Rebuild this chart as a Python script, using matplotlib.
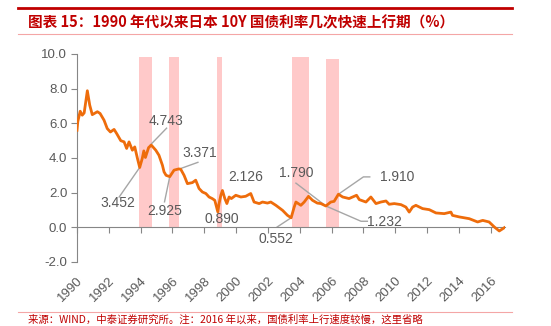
import matplotlib.pyplot as plt

plt.rcParams["font.family"] = ["Liberation Sans", "Noto Sans CJK SC", "DejaVu Sans"]

# 10Y JGB yield (%)
years = [1990.0, 1990.05, 1990.2, 1990.33, 1990.45, 1990.65, 1990.8, 1990.96, 1991.28, 1991.45,
         1991.7, 1991.9, 1992.1, 1992.33, 1992.5, 1992.75, 1992.96, 1993.12, 1993.27, 1993.48,
         1993.63, 1993.8, 1993.94, 1994.1, 1994.2, 1994.3, 1994.5, 1994.67, 1994.95, 1995.15,
         1995.37, 1995.47, 1995.6, 1995.83, 1996.1, 1996.4, 1996.52, 1996.73, 1996.94, 1997.25,
         1997.46, 1997.67, 1997.88, 1998.1, 1998.3, 1998.5, 1998.66, 1998.85, 1998.93, 1999.04,
         1999.14, 1999.29, 1999.42, 1999.56, 1999.7, 1999.98, 2000.3, 2000.6, 2000.92, 2001.13,
         2001.45, 2001.66, 2001.97, 2002.18, 2002.5, 2002.92, 2003.23, 2003.46, 2003.65, 2003.76,
         2004.07, 2004.28, 2004.55, 2004.8, 2005.1, 2005.33, 2005.64, 2005.95, 2006.16, 2006.43,
         2006.7, 2007.1, 2007.57, 2007.74, 2008.16, 2008.47, 2008.79, 2009.1, 2009.42, 2009.62,
         2009.94, 2010.36, 2010.67, 2010.88, 2011.09, 2011.3, 2011.72, 2012.14, 2012.56, 2013.08,
         2013.5, 2013.6, 2014.03, 2014.65, 2015.18, 2015.5, 2015.9, 2016.23, 2016.54, 2016.86]
yields = [5.6, 6.1, 6.7, 6.47, 6.6, 7.88, 7.05, 6.5, 6.67, 6.57,
          6.18, 5.7, 5.5, 5.65, 5.4, 5.0, 4.93, 4.55, 4.93, 4.45,
          4.64, 3.97, 3.452, 3.97, 4.41, 4.03, 4.6, 4.743, 4.45, 4.16,
          3.58, 3.2, 3.0, 2.925, 3.3, 3.371, 3.35, 3.0, 2.52, 2.58,
          2.72, 2.24, 2.04, 1.95, 1.75, 1.66, 1.56, 0.89, 1.37, 1.85,
          2.126, 1.66, 1.37, 1.75, 1.66, 1.85, 1.75, 1.79, 1.95, 1.46,
          1.37, 1.46, 1.4, 1.46, 1.27, 0.98, 0.69, 0.552, 1.17, 1.46,
          1.27, 1.46, 1.79, 1.56, 1.4, 1.37, 1.232, 1.46, 1.5, 1.91,
          1.75, 1.66, 1.85, 1.6, 1.46, 1.75, 1.37, 1.46, 1.52, 1.33,
          1.37, 1.31, 1.17, 0.88, 1.17, 1.27, 1.08, 1.02, 0.83, 0.79,
          0.88, 0.69, 0.6, 0.5, 0.31, 0.4, 0.31, 0.02, -0.21, -0.02]

# rapid-rise periods (shaded)
rise_start = [1993.9, 1995.8, 1998.8, 2003.5, 2005.66]
rise_end = [1994.7, 1996.4, 1999.1, 2004.55, 2006.46]
rise_top = [9.83, 9.83, 9.83, 9.8, 9.7]

# annotated turning points
ann_text = ["3.452", "4.743", "2.925", "3.371", "0.890", "2.126", "0.552", "1.790", "1.232", "1.910"]
ann_x = [1993.94, 1994.6, 1995.83, 1996.45, 1998.85, 1999.14, 2003.46, 2004.55, 2005.64, 2006.43]
ann_y = [3.452, 4.743, 2.925, 3.371, 0.890, 2.126, 0.552, 1.790, 1.232, 1.910]

xticks = list(range(1990, 2017, 2))
yticks = [-2, 0, 2, 4, 6, 8, 10]

# layout of the labels: (text x, text y, leader path or None)
label_layout = [
    (1992.58, 1.39, [(1992.65, 1.75)]),
    (1995.58, 6.13, [(1995.63, 5.72)]),
    (1995.53, 0.92, [(1995.5, 1.47)]),
    (1997.74, 4.30, [(1997.6, 3.75)]),
    (1999.10, 0.50, None),
    (2000.61, 2.91, None),
    (2002.50, -0.66, [(2002.58, 0.02)]),
    (2003.76, 3.14, None),
    (2009.30, 0.32, [(2003.76, 2.55)]),
    (2010.14, 2.91, [(2008.0, 2.91), (2008.4, 2.91)]),
]

GRAY = "#595959"
fig = plt.figure(figsize=(5.51, 3.26), dpi=100)
ax = fig.add_axes([77 / 551, 64 / 326, 428 / 551, 208 / 326])

ax.bar(rise_start, rise_top, width=[e - s for s, e in zip(rise_start, rise_end)],
       align="edge", color="#FFC9C9", linewidth=0, zorder=1)
ax.plot(years, yields, color="#EE6C0B", lw=2, zorder=3)

for (txt, px, py), (tx, ty, path) in zip(zip(ann_text, ann_x, ann_y), label_layout):
    ax.text(tx, ty, txt, ha="center", va="center", fontsize=10, color=GRAY, zorder=4)
    if path is None:
        continue
    if txt == "1.232":
        # this leader runs from the 1.790 label through the 1.232 low
        xs, ys = [path[0][0], px, 2007.85, 2008.25], [path[0][1], py, 0.35, 0.35]
    else:
        xs = [px] + [p[0] for p in path]
        ys = [py] + [p[1] for p in path]
    ax.plot(xs, ys, color="#A6A6A6", lw=1, zorder=2)

ax.set_xlim(1990, 2016.9)
ax.set_ylim(-2, 10)
ax.set_yticks(yticks)
ax.set_yticklabels([f"{v:.1f}" for v in yticks])
ax.set_xticks(xticks)
ax.tick_params(axis="x", labelbottom=False, direction="out", length=4, color="#868686")
ax.tick_params(axis="y", direction="out", length=4, color="#868686", labelcolor=GRAY,
               labelsize=9.5, pad=3)
for side in ("top", "right"):
    ax.spines[side].set_visible(False)
ax.spines["left"].set_color("#868686")
ax.spines["bottom"].set_color("#868686")
ax.spines["bottom"].set_position(("data", 0))

sec = ax.secondary_xaxis("bottom")
sec.set_xticks(xticks)
sec.set_xticklabels([str(y) for y in xticks], rotation=45, ha="right",
                    rotation_mode="anchor", color=GRAY, fontsize=9.5)
sec.tick_params(length=0, pad=9)
sec.spines["bottom"].set_visible(False)

# header / footer decoration
fig.add_artist(plt.Line2D([18 / 551, 512 / 551], [1 - 8 / 326] * 2, color="#C00000", lw=2))
fig.add_artist(plt.Line2D([18 / 551, 512 / 551], [1 - 34 / 326] * 2, color="#F4A6A6", lw=0.8))
fig.add_artist(plt.Line2D([18 / 551, 512 / 551], [1 - 312 / 326] * 2, color="#F4A6A6", lw=0.8))
fig.text(28 / 551, 1 - 22 / 326, "图表 15：1990 年代以来日本 10Y 国债利率几次快速上行期（%）",
         family=["Noto Sans CJK SC", "DejaVu Sans"], fontsize=10.5, fontweight="bold",
         fontstyle="italic", color="#C00000", va="center", ha="left")
fig.text(28 / 551, 1 - 314 / 326, "来源：WIND，中泰证券研究所。注：2016 年以来，国债利率上行速度较慢，这里省略",
         family=["Noto Sans CJK SC", "DejaVu Sans"], fontsize=7.5, color="#C00000",
         va="top", ha="left")

fig.savefig("out.png", dpi=100)
